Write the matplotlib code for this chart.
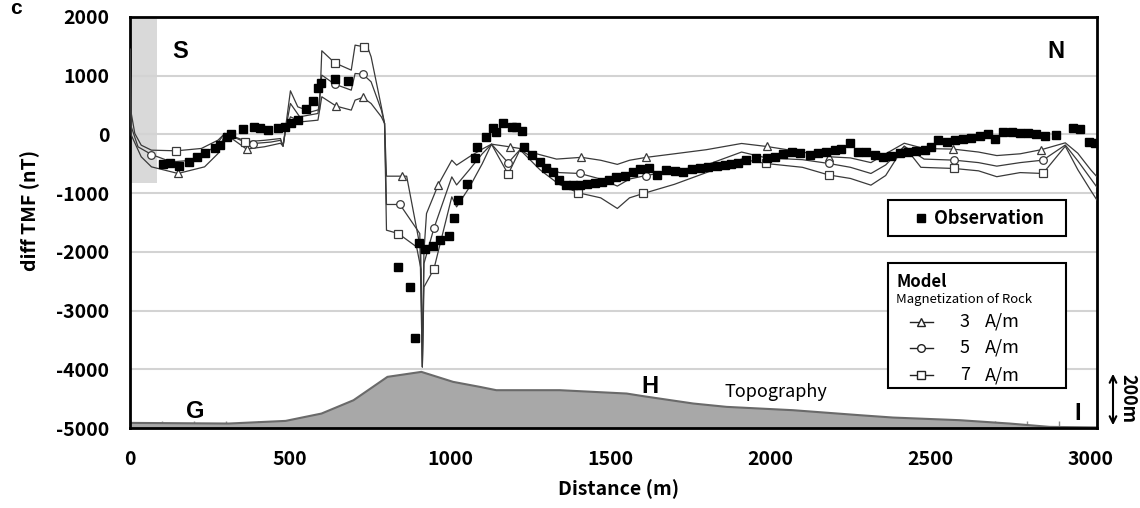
import matplotlib
matplotlib.use("Agg")
import matplotlib.pyplot as plt
from matplotlib.patches import Rectangle, FancyArrowPatch
from matplotlib.lines import Line2D
from matplotlib.ticker import MultipleLocator

plt.rcParams['axes.unicode_minus'] = False
plt.rcParams['font.family'] = ['Noto Sans CJK JP', 'DejaVu Sans']

# observation (distance m, diff TMF nT)
obs_x = [103, 124, 152, 183, 209, 235, 264, 280, 304, 316, 353, 387, 405, 431, 462,
         483, 504, 524, 550, 571, 587, 597, 640, 681, 838, 874, 890, 903, 921, 947,
         968, 996, 1012, 1025, 1054, 1078, 1084, 1112, 1134, 1143, 1164, 1192, 1207,
         1223, 1231, 1256, 1280, 1299, 1320, 1340, 1363, 1384, 1405, 1426, 1452, 1473,
         1497, 1519, 1545, 1571, 1592, 1621, 1647, 1673, 1702, 1728, 1754, 1780, 1806,
         1832, 1858, 1878, 1900, 1925, 1956, 1988, 2014, 2040, 2066, 2092, 2123, 2149,
         2175, 2201, 2222, 2250, 2274, 2300, 2326, 2352, 2378, 2404, 2430, 2456, 2482,
         2503, 2524, 2550, 2576, 2602, 2628, 2654, 2680, 2701, 2727, 2753, 2779, 2805,
         2831, 2857, 2892, 2944, 2967, 2996, 3013]
obs_y = [-506, -484, -535, -478, -381, -308, -239, -183, -41, 5, 90, 130, 101, 73, 118,
         130, 187, 243, 425, 567, 783, 868, 940, 913, -2266, -2596, -3459, -1841, -1943, -1898,
         -1801, -1733, -1415, -1120, -836, -398, -211, -52, 118, 45, 198, 130, 130,
         56, -222, -353, -467, -569, -637, -768, -853, -853, -853, -836, -824, -807,
         -779, -722, -711, -637, -597, -569, -694, -608, -625, -636, -591, -580, -551,
         -534, -523, -511, -494, -438, -409, -409, -381, -341, -307, -324, -352, -324,
         -307, -267, -250, -154, -296, -307, -352, -381, -364, -324, -296, -284, -267,
         -211, -97, -125, -97, -80, -57, -23, -1, -80, 45, 45, 17, 17,
         -1, -23, -12, 102, 90, -126, -154]

# model, 3 A/m
m3_x = [0, 4, 35, 67, 150, 233, 275, 296, 364, 420, 470, 478, 485, 501, 535, 587, 599,
        644, 691, 703, 727, 753, 785, 795, 801, 864, 908, 913, 918, 926, 963, 1005, 1020,
        1060, 1100, 1129, 1186, 1218, 1270, 1332, 1410, 1470, 1522, 1560, 1613, 1700,
        1800, 1910, 1988, 2100, 2182, 2250, 2314, 2360, 2418, 2480, 2571, 2650, 2707,
        2780, 2846, 2921, 2960, 3000, 3020]
m3_y = [1450, -12, -381, -552, -665, -552, -325, 16, -250, -210, -150, -200, 40, 300, 215,
        243, 641, 482, 414, 584, 629, 527, 300, 187, -711, -711, -1972, -3960, -2000, -1347,
        -853, -439, -523, -380, -250, -166, -211, -240, -330, -420, -390, -440, -510, -440,
        -390, -330, -260, -154, -205, -300, -380, -400, -480, -330, -150, -240, -250, -300,
        -360, -330, -260, -143, -320, -600, -722]
m3_mx = [150, 364, 644, 727, 851, 963, 1186, 1410, 1613, 1988, 2182, 2571, 2846]
m3_my = [-665, -250, 482, 629, -711, -853, -211, -390, -390, -205, -380, -250, -260]

# model, 5 A/m
m5_x = [0, 4, 25, 67, 129, 202, 264, 296, 385, 440, 470, 478, 485, 501, 530, 587, 599,
        639, 691, 703, 727, 753, 785, 795, 801, 843, 905, 913, 918, 949, 1005, 1020, 1060,
        1100, 1129, 1181, 1218, 1280, 1340, 1405, 1470, 1522, 1560, 1611, 1700, 1800,
        1910, 1988, 2100, 2182, 2250, 2314, 2360, 2418, 2480, 2574, 2650, 2707, 2780,
        2851, 2921, 2960, 3000, 3020]
m5_y = [1450, 130, -211, -342, -467, -438, -211, 16, -155, -130, -100, -200, 60, 527, 300,
        357, 1010, 857, 754, 1038, 1027, 896, 414, 187, -1193, -1193, -1688, -3960, -2200,
        -1602, -723, -860, -600, -330, -166, -484, -260, -470, -650, -665, -760, -880, -760,
        -700, -620, -520, -300, -400, -430, -494, -560, -665, -520, -200, -420, -438, -480,
        -540, -480, -438, -180, -450, -750, -900]
m5_mx = [67, 385, 639, 727, 843, 949, 1181, 1405, 1611, 1988, 2182, 2574, 2851]
m5_my = [-342, -155, 857, 1027, -1193, -1602, -484, -665, -700, -400, -494, -438, -438]

# model, 7 A/m
m7_x = [0, 4, 15, 35, 67, 145, 223, 275, 296, 358, 420, 470, 478, 485, 501, 524, 566,
        592, 599, 639, 691, 703, 730, 738, 753, 785, 795, 801, 838, 895, 909, 913, 918,
        949, 1005, 1020, 1060, 1100, 1129, 1181, 1218, 1280, 1340, 1400, 1470, 1522,
        1560, 1603, 1700, 1800, 1910, 1986, 2100, 2182, 2250, 2314, 2360, 2418, 2470,
        2574, 2650, 2707, 2780, 2851, 2921, 2960, 3000, 3020]
m7_y = [1450, 357, 16, -183, -268, -279, -239, -97, 16, -126, -100, -70, -200, 80, 743,
        470, 385, 425, 1425, 1220, 1095, 1521, 1493, 1549, 1322, 470, 187, -1631, -1688,
        -1915, -2300, -3960, -2600, -2294, -1063, -1234, -900, -500, -166, -677, -260,
        -600, -850, -994, -1080, -1261, -1080, -1006, -850, -650, -420, -495, -560, -690,
        -750, -864, -700, -200, -560, -580, -620, -720, -650, -665, -200, -600, -950, -1120]
m7_mx = [145, 358, 639, 730, 838, 949, 1181, 1400, 1603, 1986, 2182, 2574, 2851]
m7_my = [-279, -126, 1220, 1493, -1688, -2294, -677, -994, -1006, -495, -690, -580, -665]

# topography drawn on the same axis (base -5000)
topo_x = [0, 308, 486, 598, 698, 804, 910, 1009, 1093, 1144, 1342, 1551, 1603, 1759,
          1863, 2071, 2279, 2383, 2591, 2747, 2872, 3020]
topo_y = [-4913, -4924, -4879, -4754, -4527, -4129, -4044, -4214, -4300, -4356, -4356,
          -4413, -4458, -4583, -4640, -4697, -4782, -4822, -4867, -4924, -4981, -4990]

W, H = 1140, 508
fig = plt.figure(figsize=(W / 100, H / 100), dpi=100)
ax = fig.add_axes([130 / W, 80 / H, 967 / W, 411 / H])

ax.fill_between([0, 85], -830, 1960, color='#d9d9d9', lw=0, zorder=0)
ax.fill_between(topo_x, topo_y, -5000, facecolor='#a8a8a8', edgecolor='none', zorder=1)
ax.plot(topo_x, topo_y, color='#6a6a6a', lw=1.5, zorder=1.5)

line_kw = dict(color='#3a3a3a', lw=0.9, zorder=3)
mk_kw = dict(ls='none', mfc='white', mec='#3a3a3a', mew=0.9, ms=5.5, zorder=4)
ax.plot(m3_x, m3_y, **line_kw)
ax.plot(m5_x, m5_y, **line_kw)
ax.plot(m7_x, m7_y, **line_kw)
ax.plot(m3_mx, m3_my, marker='^', **mk_kw)
ax.plot(m5_mx, m5_my, marker='o', **mk_kw)
ax.plot(m7_mx, m7_my, marker='s', **mk_kw)
ax.plot(obs_x, obs_y, ls='none', marker='s', ms=6, color='black', zorder=5)

ax.set_xlim(0, 3020)
ax.set_ylim(-5000, 2000)
ax.set_xticks(range(0, 3001, 500))
ax.set_yticks(range(-5000, 2001, 1000))
ax.xaxis.set_minor_locator(MultipleLocator(100))
ax.yaxis.grid(True, color='#d3d3d3', lw=1.5)
ax.set_axisbelow(True)
ax.tick_params(which='major', length=0, labelsize=14)
ax.tick_params(axis='x', pad=16)
ax.tick_params(axis='y', pad=15)
ax.tick_params(axis='x', which='minor', direction='in', length=5, color='#8c8c8c', width=1)
ax.tick_params(axis='y', which='minor', length=0)
for lab in ax.get_xticklabels() + ax.get_yticklabels():
    lab.set_fontweight('bold')
for sp in ax.spines.values():
    sp.set_linewidth(2)
    sp.set_color('black')

ax.set_xlabel('Distance (m)', fontsize=14, fontweight='bold')
ax.xaxis.set_label_coords(0.505, -0.125)
ax.set_ylabel('diff TMF (nT)', fontsize=14, fontweight='bold')
ax.yaxis.set_label_coords(-0.093, 0.53)

letter_kw = dict(fontsize=17, fontweight='bold', family='Liberation Sans', ha='center', va='center', zorder=6)
ax.text(157, 1407, 'S', **letter_kw)
ax.text(2891, 1407, 'N', **letter_kw)
ax.text(205, -4726, 'G', **letter_kw)
ax.text(1623, -4300, 'H', **letter_kw)
ax.text(2961, -4750, 'I', **letter_kw)
ax.text(2016, -4385, 'Topography', fontsize=13, ha='center', va='center', zorder=6)


def fx(x):
    return x / W


def fy(y):
    return 1 - y / H


fig.text(fx(16), fy(9), 'c', fontsize=15, fontweight='bold', family='Liberation Sans',
         ha='center', va='center')

# observation legend box
fig.patches.append(Rectangle((fx(888), fy(236)), 178 / W, 36 / H, transform=fig.transFigure,
                             facecolor='white', edgecolor='black', lw=1.5, zorder=10))
fig.lines.append(Line2D([fx(921)], [fy(218)], transform=fig.transFigure, marker='s', ms=6,
                        color='black', ls='none', zorder=11))
fig.text(fx(934), fy(218), 'Observation', fontsize=13, fontweight='bold', va='center', zorder=11)

# model legend box
fig.patches.append(Rectangle((fx(888), fy(388)), 178 / W, 125 / H, transform=fig.transFigure,
                             facecolor='white', edgecolor='black', lw=1.5, zorder=10))
fig.text(fx(896), fy(282), 'Model', fontsize=12, fontweight='bold', va='center', zorder=11)
fig.text(fx(896), fy(299), 'Magnetization of Rock', fontsize=9.5, va='center', zorder=11)
for yy, mk, lab in [(322, '^', '3'), (348, 'o', '5'), (375, 's', '7')]:
    fig.lines.append(Line2D([fx(910), fx(933)], [fy(yy), fy(yy)], transform=fig.transFigure,
                            color='#222222', lw=1, zorder=11))
    fig.lines.append(Line2D([fx(921)], [fy(yy)], transform=fig.transFigure, marker=mk, ms=5.5,
                            mfc='white', mec='#222222', mew=1, ls='none', zorder=12))
    fig.text(fx(965), fy(yy), lab, fontsize=13, va='center', ha='center', zorder=11)
    fig.text(fx(985), fy(yy), 'A/m', fontsize=13, va='center', zorder=11)

# 200 m scale bar
fig.patches.append(FancyArrowPatch((fx(1113), fy(371)), (fx(1113), fy(428)),
                                   transform=fig.transFigure, arrowstyle='<->',
                                   mutation_scale=12, lw=1.5, color='black'))
fig.text(fx(1128), fy(398), '200m', fontsize=13, fontweight='bold', rotation=-90,
         ha='center', va='center')

fig.savefig('out.png', dpi=100)
